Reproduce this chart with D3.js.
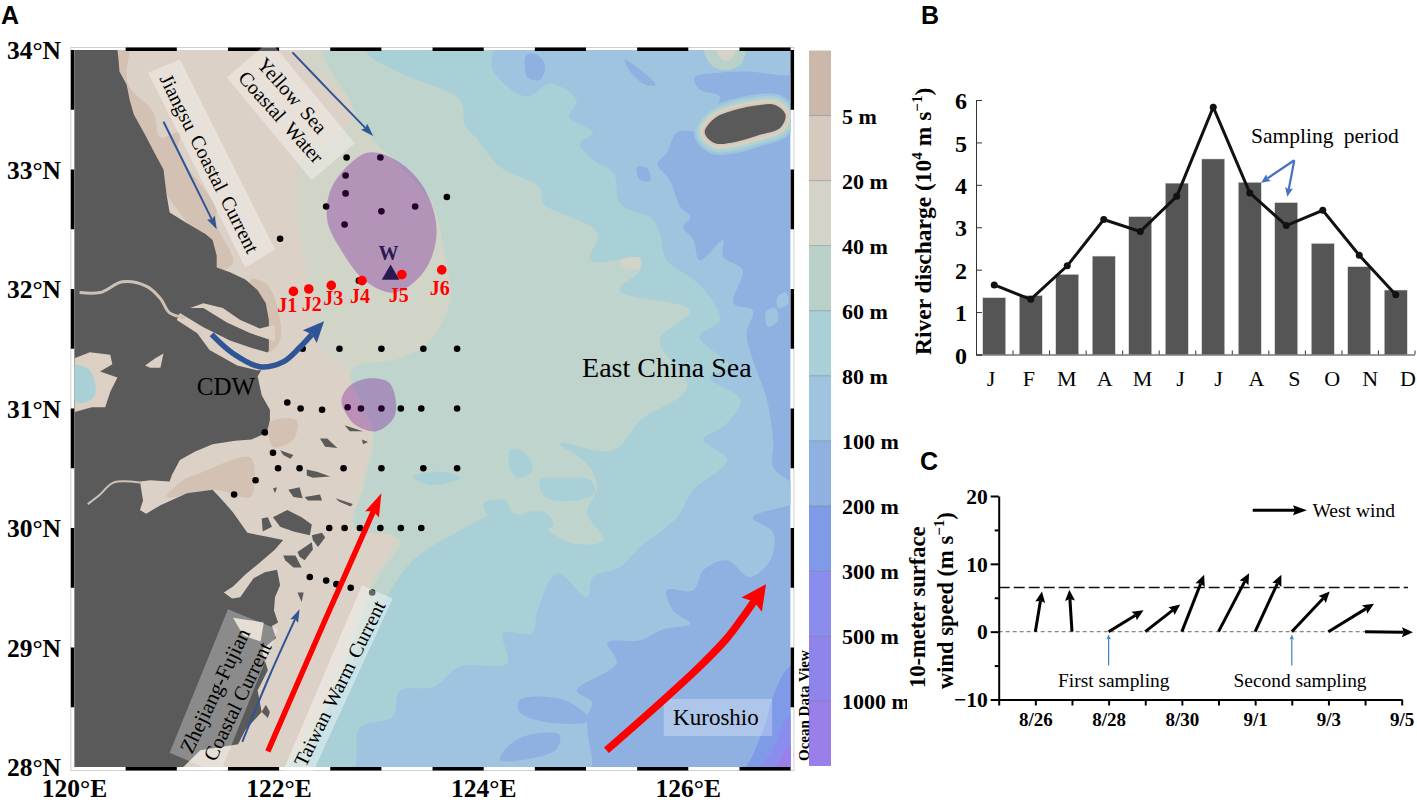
<!DOCTYPE html>
<html>
<head>
<meta charset="utf-8">
<script src="https://d3js.org/d3.v7.min.js"></script>
<style>
  html, body { margin: 0; background: #fff; }
  text { font-family: "Liberation Serif", serif; fill: #000; }
  .letter { font-family: "Liberation Sans", sans-serif; font-weight: bold; font-size: 25px; }
</style>
</head>
<body>
<svg id="fig" width="1417" height="802"></svg>
<script>
// ---- panel A: all outlines are [lon, lat] ----
const lonTicks = [120, 122, 124, 126];
const latTicks = [34, 33, 32, 31, 30, 29, 28];
const depthLevels = ["5 m", "20 m", "40 m", "60 m", "80 m", "100 m", "200 m", "300 m", "500 m", "1000 m"];
const depthColors = ["#cbb8aa", "#d6cabf", "#d3d3c7", "#bad1ca", "#a8d0d6", "#9ec4df", "#8fb1e1", "#7f9be8", "#8a8cee", "#8f84ec", "#9a7fea"];

const band100 = [[127.09,33.82],[126.56,33.82],[126.31,33.81],[126.06,33.77],[126.11,33.67],[126.31,33.61],[126.23,33.47],[126.14,33.33],[125.89,33.31],[125.79,33.14],[125.70,33.05],[125.82,32.91],[125.92,32.69],[126.02,32.60],[125.95,32.52],[126.05,32.41],[126.11,32.24],[126.34,32.41],[126.34,32.27],[126.53,32.16],[126.44,31.88],[126.63,31.82],[126.57,31.63],[126.63,31.41],[126.77,31.07],[126.83,30.71],[126.83,30.51],[127.09,30.32],[127.09,30.23],[126.63,30.09],[126.83,29.96],[126.80,29.73],[126.60,29.59],[126.38,29.73],[126.15,29.65],[126.05,29.48],[125.79,29.48],[125.85,29.31],[126.02,29.20],[125.75,29.15],[125.53,29.06],[125.21,29.04],[125.30,28.87],[124.91,28.64],[125.06,28.54],[125.01,28.42],[125.02,28.27],[125.01,27.93],[119.86,27.93],[119.86,34.17],[127.09,34.17]];
const band80 = [[124.06,34.17],[124.09,33.83],[124.42,33.61],[124.65,33.72],[124.91,33.58],[124.84,33.44],[125.07,33.31],[124.94,33.22],[125.07,33.08],[125.27,32.97],[125.33,32.72],[125.50,32.64],[125.63,32.60],[125.72,32.47],[125.79,32.24],[126.05,32.08],[126.18,31.97],[126.31,31.74],[126.11,31.60],[126.41,31.35],[126.21,31.26],[126.51,31.07],[126.36,30.86],[126.15,30.74],[126.38,30.57],[126.05,30.32],[125.89,30.09],[125.53,29.84],[125.33,29.67],[125.07,29.59],[125.01,29.42],[124.72,29.62],[124.52,29.29],[124.48,29.12],[124.19,29.12],[124.23,28.87],[123.77,28.84],[123.51,28.67],[123.18,28.64],[123.11,28.42],[122.79,28.33],[122.69,27.93],[119.86,27.93],[119.86,34.17]];
const band60 = [[122.86,34.17],[122.86,33.98],[123.18,33.81],[123.77,33.58],[123.82,33.37],[123.94,33.25],[124.16,33.02],[124.55,32.85],[124.58,32.72],[125.11,32.47],[125.04,32.24],[125.40,32.24],[125.53,32.16],[125.33,31.99],[126.02,31.82],[125.72,31.57],[125.99,31.18],[125.53,30.90],[125.27,30.65],[124.74,30.71],[125.01,30.54],[125.11,30.34],[125.01,30.13],[125.17,29.90],[124.87,29.87],[124.42,30.09],[124.16,30.13],[123.77,29.98],[123.31,29.73],[123.08,29.46],[122.69,28.84],[122.37,28.28],[122.20,27.93],[119.86,27.93],[119.86,34.17]];
const band40 = [[122.42,34.17],[122.42,33.98],[122.69,33.58],[122.86,33.31],[123.48,32.74],[123.61,32.33],[123.67,31.91],[123.48,31.57],[123.18,31.42],[122.71,31.32],[122.92,30.80],[122.84,30.38],[122.74,30.00],[123.18,29.90],[122.96,29.58],[121.98,27.93],[119.86,27.93],[119.86,34.17]];
const band20 = [[122.20,34.17],[122.20,33.98],[122.72,33.47],[122.20,33.04],[122.17,32.74],[122.20,32.47],[122.33,31.91],[122.43,31.49],[122.64,31.35],[122.74,31.07],[122.89,30.80],[122.81,30.38],[122.71,30.00],[123.13,29.92],[122.91,29.58],[121.89,27.93],[119.86,27.93],[119.86,34.17]];
const deep200 = [[126.55,27.93],[126.63,28.10],[126.75,28.35],[126.85,28.64],[127.00,28.85],[127.20,28.90],[127.20,27.90]];
const deep300 = [[126.68,27.93],[126.82,28.14],[127.00,28.44],[127.20,28.48],[127.20,27.90]];
const deep500 = [[126.85,27.93],[127.00,28.18],[127.20,28.23],[127.20,27.90]];

// small closed patches, grouped by the depth class they are filled with
const patches200 = [
  [[124.42,33.96],[124.52,33.96],[124.60,33.87],[124.55,33.75],[124.43,33.77],[124.40,33.87]],
  [[125.50,33.02],[125.60,33.01],[125.63,32.91],[125.53,32.91]],
  [[125.38,33.92],[125.68,33.71],[125.58,33.71],[125.43,33.82]],
  [[124.35,28.56],[124.79,28.56],[125.04,28.39],[124.65,28.37],[124.35,28.46]],
  [[124.45,28.27],[124.74,28.27],[124.70,28.14],[124.16,28.06],[124.26,28.19]]
];
const patches100 = [
  [[126.76,31.81],[126.85,31.84],[126.88,31.74],[126.78,31.68]],
  [[126.87,31.93],[126.95,31.97],[126.98,31.88],[126.88,31.84]]
];
const patches80 = [
  [[124.26,30.65],[124.40,30.63],[124.48,30.49],[124.35,30.42],[124.26,30.49]],
  [[124.55,30.40],[124.79,30.42],[125.04,30.40],[125.09,30.30],[124.89,30.23],[124.60,30.26]],
  [[124.38,30.11],[124.60,30.13],[124.68,30.03],[124.50,29.97]],
  [[124.00,30.21],[124.21,30.23],[124.26,30.12],[124.06,30.09]],
  [[123.31,30.43],[123.60,30.47],[123.77,30.42],[123.48,30.36]]
];
const patches60 = [[[126.16,34.00],[126.55,34.00],[126.51,33.88],[126.36,33.83],[126.23,33.87]]];
const patches40 = [
  [[125.33,32.24],[125.53,32.26],[125.53,32.18],[125.38,32.18]],
  [[126.28,34.00],[126.46,34.00],[126.41,33.92],[126.33,33.92]]
];
const shoals = [
  [[120.37,34.04],[120.52,34.04],[120.52,33.72],[120.77,33.48],[120.84,33.27],[121.03,33.31],[121.01,33.14],[121.20,32.91],[121.38,32.69],[121.39,32.54],[121.55,32.22],[121.42,32.16],[121.23,32.41],[120.84,32.87],[120.44,33.58]],
  [[121.72,32.08],[121.89,32.03],[122.01,31.74],[122.00,31.55],[121.88,31.47],[121.83,31.70]],
  [[121.91,30.88],[122.17,30.90],[122.14,30.74],[121.94,30.68]],
  [[120.90,30.26],[121.06,30.40],[121.23,30.46],[121.72,30.59],[121.76,30.40],[121.72,30.26],[121.37,30.32]]
];

const mainland = [[120.40,34.17],[120.43,33.92],[120.44,33.82],[120.51,33.71],[120.54,33.58],[120.58,33.46],[120.69,33.29],[120.77,33.16],[120.87,33.00],[120.90,32.79],[120.93,32.64],[121.10,32.55],[121.28,32.46],[121.35,32.41],[121.39,32.28],[121.39,32.18],[121.52,32.14],[121.67,32.08],[121.79,31.99],[121.87,31.88],[121.90,31.74],[121.90,31.49],[121.84,31.34],[121.79,31.27],[121.83,31.11],[121.91,30.99],[121.91,30.90],[121.88,30.80],[121.73,30.74],[121.57,30.73],[121.35,30.70],[121.18,30.64],[121.03,30.57],[120.95,30.44],[120.93,30.39],[120.74,30.40],[120.64,30.39],[120.67,30.23],[120.64,30.15],[120.70,30.12],[120.84,30.19],[121.10,30.29],[121.35,30.32],[121.47,30.21],[121.55,30.13],[121.69,29.96],[121.86,29.93],[122.04,29.90],[121.96,29.82],[121.81,29.71],[121.67,29.61],[121.55,29.51],[121.46,29.46],[121.54,29.41],[121.62,29.42],[121.75,29.58],[121.86,29.63],[121.98,29.65],[122.01,29.52],[121.96,29.42],[121.95,29.31],[121.99,29.21],[121.93,29.18],[121.97,29.08],[121.83,28.98],[121.89,28.81],[121.79,28.64],[121.83,28.46],[121.67,28.31],[121.60,28.19],[121.23,28.14],[120.98,27.93],[119.86,27.93],[119.86,34.17]];
const jeju = [[126.16,33.31],[126.26,33.43],[126.46,33.50],[126.70,33.54],[126.85,33.54],[126.95,33.46],[126.90,33.35],[126.70,33.29],[126.46,33.23],[126.26,33.22]];
const islands = [
  [[121.94,30.09],[122.08,30.15],[122.22,30.09],[122.32,30.03],[122.30,29.94],[122.14,29.97],[122.01,30.01]],
  [[121.83,30.08],[121.89,30.09],[121.93,30.01],[121.84,29.97]],
  [[122.32,29.94],[122.42,29.96],[122.45,29.92],[122.38,29.84],[122.33,29.90]],
  [[122.18,29.80],[122.32,29.88],[122.33,29.82],[122.25,29.73],[122.20,29.76]],
  [[122.04,29.77],[122.16,29.77],[122.22,29.67],[122.14,29.67],[122.06,29.73]],
  [[122.09,30.32],[122.20,30.34],[122.23,30.25],[122.14,30.26]],
  [[122.25,30.26],[122.40,30.28],[122.42,30.23],[122.28,30.23]],
  [[122.27,30.49],[122.37,30.47],[122.50,30.43],[122.33,30.42],[122.27,30.44]],
  [[122.40,30.75],[122.47,30.75],[122.57,30.67],[122.45,30.68]],
  [[122.18,29.46],[122.24,29.46],[122.22,29.38]],
  [[122.01,30.65],[122.14,30.61],[122.11,30.58],[122.04,30.61]],
  [[122.81,30.74],[122.87,30.72],[122.82,30.70]],
  [[122.64,30.86],[122.82,30.81],[122.69,30.81]],
  [[121.94,30.33],[121.98,30.34],[121.96,30.29]],
  [[122.55,30.25],[122.72,30.20],[122.70,30.18],[122.59,30.22]],
  [[121.87,28.52],[121.91,28.46],[121.89,28.41],[121.83,28.46]]
];
const northChannel = [[121.13,31.84],[121.26,31.88],[121.45,31.84],[121.62,31.74],[121.81,31.67],[121.96,31.70],[121.96,31.56],[121.72,31.63],[121.49,31.72],[121.26,31.84]];
const southChannel = [[121.03,31.80],[121.26,31.68],[121.52,31.57],[121.72,31.51],[121.88,31.47],[121.96,31.47],[121.96,31.32],[121.78,31.32],[121.59,31.36],[121.32,31.49],[121.20,31.63],[121.00,31.74]];
const coastFlats = [[121.55,29.25],[121.85,29.21],[121.82,29.05],[121.65,29.10]];
const taiLake = [[120.00,31.42],[120.15,31.47],[120.35,31.45],[120.37,31.37],[120.25,31.31],[120.42,31.26],[120.35,31.14],[120.30,31.01],[120.17,31.01],[120.00,30.97]];
const taiLakeDeep = [[120.00,31.36],[120.15,31.32],[120.20,31.11],[120.10,31.05],[120.00,31.07]];
const smallLake = [[120.69,31.36],[120.79,31.42],[120.87,31.46],[120.84,31.34],[120.74,31.34]];
const rivers = [
  [[120.05,31.97],[120.25,31.97],[120.47,32.06],[120.71,32.02],[120.84,31.92],[120.93,31.80],[121.08,31.76]],
  [[120.13,30.20],[120.25,30.28],[120.38,30.38],[120.64,30.38]]
];

const stations = [[122.66,33.10],[122.99,33.10],[122.65,32.95],[122.65,32.80],[122.46,32.69],[123.00,32.65],[123.33,32.69],[122.64,32.54],[123.64,32.77],[122.01,32.42],
  [122.23,31.50],[122.59,31.50],[123.00,31.50],[123.41,31.50],[123.74,31.50],
  [122.08,31.05],[122.21,31.00],[122.42,30.99],[122.67,31.01],[122.80,31.00],[123.00,31.00],[123.19,31.00],[123.39,31.00],[123.74,31.00],
  [121.86,30.80],[121.94,30.63],[121.99,30.50],[122.20,30.50],[122.63,30.50],[123.00,30.50],[123.41,30.50],[123.74,30.50],[121.77,30.40],[121.56,30.28],
  [122.49,30.00],[122.64,30.00],[122.79,30.00],[122.99,30.00],[123.19,30.00],[123.39,30.00],
  [122.30,29.59],[122.46,29.56],[122.56,29.53],[122.70,29.50],[122.91,29.46],[122.78,32.07]];
const jNames = ["J1", "J2", "J3", "J4", "J5", "J6"];
const jStations = [[122.14,31.98],[122.29,32.00],[122.51,32.03],[122.81,32.07],[123.20,32.12],[123.59,32.16]];
const jLabels = [[122.08,31.81],[122.32,31.82],[122.53,31.87],[122.79,31.88],[123.17,31.89],[123.57,31.95]];
const hypoxia = [
  [[122.86,33.14],[123.16,33.07],[123.42,32.84],[123.54,32.48],[123.42,32.15],[123.13,31.97],[122.84,32.07],[122.61,32.32],[122.47,32.58],[122.52,32.86]],
  [[122.61,31.07],[122.69,31.19],[122.85,31.25],[123.07,31.22],[123.14,31.07],[123.12,30.92],[122.95,30.81],[122.75,30.86],[122.66,30.95]]
];

// label boxes and current arrows
const jiangsuBox = [[120.72,33.81],[121.03,33.92],[121.96,32.33],[121.67,32.18]];
const yellowBox = [[121.49,33.77],[121.91,34.08],[122.74,33.22],[122.32,32.91]];
const zhejiangBox = [[121.50,29.32],[121.99,29.15],[121.42,27.94],[120.93,28.12]];
const taiwanBox = [[122.81,29.52],[123.11,29.41],[122.30,27.90],[122.04,27.97]];
const kuroshioBox = [[125.76,28.57],[126.82,28.57],[126.82,28.26],[125.76,28.26]];
const taiwanCurrent = [[121.89,28.13],[122.45,29.23],[123.00,30.29]];
const kuroshioCurrent = [[125.20,28.14],[125.73,28.54],[126.11,28.84],[126.38,29.08],[126.53,29.25],[126.76,29.53]];
const jiangsuCurrent = [[120.87,33.40],[121.13,32.95],[121.39,32.50]];
const yellowCurrent = [[122.13,33.98],[122.50,33.65],[122.92,33.28]];
const zhejiangCurrent = [[121.64,28.21],[121.91,28.77],[122.20,29.32]];
const diluted = [[121.34,31.62],[121.55,31.46],[121.81,31.35],[122.04,31.39],[122.20,31.51],[122.44,31.73]];

// ---- panel B ----
const months = ["J", "F", "M", "A", "M", "J", "J", "A", "S", "O", "N", "D"];
const dischargeBars = [1.34, 1.39, 1.89, 2.32, 3.25, 4.04, 4.61, 4.06, 3.58, 2.62, 2.07, 1.52];
const dischargeLine = [1.64, 1.30, 2.09, 3.18, 2.90, 3.73, 5.83, 3.81, 3.04, 3.40, 2.34, 1.41];

// ---- panel C ----
const days = ["8/25", "8/26", "8/27", "8/28", "8/29", "8/30", "8/31", "9/1", "9/2", "9/3", "9/4", "9/5"];
const dayLabels = ["8/26", "8/28", "8/30", "9/1", "9/3", "9/5"];
const windDays = ["8/26", "8/27", "8/28", "8/29", "8/30", "8/31", "9/1", "9/2", "9/3", "9/4"];
const windU = [0.98, -0.39, 5.15, 5.15, 3.28, 4.51, 3.87, 5.59, 6.72, 7.06];
const windV = [5.93, 6.18, 3.14, 4.02, 8.38, 8.63, 8.38, 5.93, 4.12, -0.10];
const windMean = 6.5;
const samplingDays = [["8/28", "First sampling"], ["9/2", "Second sampling"]];

const svg = d3.select("#fig");

// draws a shaft plus a triangular head, pts are already in pixels
function arrow(g, pts, w, headLen, headW, color, curve) {
  const n = pts.length - 1;
  const tip = pts[n], prev = pts[n - 1];
  const len = Math.hypot(tip[0] - prev[0], tip[1] - prev[1]);
  const ux = (tip[0] - prev[0]) / len, uy = (tip[1] - prev[1]) / len;
  const base = [tip[0] - ux * headLen, tip[1] - uy * headLen];
  const neck = [tip[0] - ux * headLen * 0.85, tip[1] - uy * headLen * 0.85];
  g.append("path")
    .attr("d", d3.line().curve(curve || d3.curveLinear)(pts.slice(0, n).concat([neck])))
    .attr("fill", "none").attr("stroke", color).attr("stroke-width", w);
  g.append("path")
    .attr("d", d3.line()([tip,
      [base[0] - uy * headW / 2, base[1] + ux * headW / 2],
      neck,
      [base[0] + uy * headW / 2, base[1] - ux * headW / 2]]) + "Z")
    .attr("fill", color);
}

// ==================== panel A ====================
const lon = d3.scaleLinear().domain([120, 127]).range([74.5, 790.6]);
const lat = d3.scaleLinear().domain([34, 28]).range([50, 767]);
const toPx = d => [lon(d[0]), lat(d[1])];
const smooth = d3.line().curve(d3.curveCatmullRomClosed.alpha(0.5));
const straight = d3.line();
const smoothPath = pts => smooth(pts.map(toPx));
const polyPath = pts => straight(pts.map(toPx)) + "Z";

svg.append("clipPath").attr("id", "mapClip").append("rect")
  .attr("x", lon(120)).attr("y", lat(34))
  .attr("width", lon(127) - lon(120)).attr("height", lat(28) - lat(34));

const map = svg.append("g").attr("clip-path", "url(#mapClip)");
map.append("rect")
  .attr("x", lon(120)).attr("y", lat(34))
  .attr("width", lon(127) - lon(120)).attr("height", lat(28) - lat(34))
  .attr("fill", "#8fb1e1");

function fillLayer(list, fill, pathFn) {
  map.selectAll(null).data(list).enter().append("path")
    .attr("d", pathFn || smoothPath).attr("fill", fill);
}
fillLayer([deep200], "#7f9be8");
fillLayer([deep300], "#8a8cee");
fillLayer([deep500], "#9a7fea");
fillLayer(patches100, "#9ec4df");
fillLayer([band100], "#9ec4df");
fillLayer(patches200, "#8fb1e1");
fillLayer([band80], "#a8d0d6");
fillLayer([band60], "#bed4cc");
fillLayer(patches80, "#a8d0d6");
fillLayer(patches60, "#bad1ca");
fillLayer(patches40, "#d3d3c7");
fillLayer([band40], "#d1d5c8");
fillLayer([band20], "#dcd1c6");
fillLayer(shoals, "#d3c1b3");

// rings around Jeju are the same outline stroked wider and wider
[[22, "#9ec4df"], [17, "#a8d0d6"], [13, "#bad1ca"], [9, "#d3d3c7"], [5, "#d9c9bb"]].forEach(r => {
  map.append("path").attr("d", smoothPath(jeju)).attr("fill", "none")
    .attr("stroke", r[1]).attr("stroke-width", r[0]).attr("stroke-linejoin", "round");
});

fillLayer([mainland], "#5a5a5a", polyPath);
fillLayer([jeju], "#5a5a5a");
fillLayer(islands, "#5a5a5a", polyPath);
fillLayer([northChannel, southChannel, taiLake, smallLake, coastFlats], "#dccfc3", polyPath);
fillLayer([taiLakeDeep], "#a8d0d6");
map.selectAll(null).data(rivers).enter().append("path")
  .attr("d", d => d3.line().curve(d3.curveCatmullRom)(d.map(toPx)))
  .attr("fill", "none").attr("stroke", "#cfc1b5").attr("stroke-width", (d, i) => i === 1 ? 2 : 3);

// frame with the alternating black dashes
const frame = svg.append("g");
frame.append("rect")
  .attr("x", lon(120) - 3.7).attr("y", lat(34) - 2.5)
  .attr("width", lon(127) - lon(120) + 7).attr("height", lat(28) - lat(34) + 6)
  .attr("fill", "none").attr("stroke", "#cfcfcf").attr("stroke-width", 1);
d3.range(120.5, 127, 1).forEach(d => {
  [lat(34) - 2.5, lat(28)].forEach(y => {
    frame.append("rect").attr("x", lon(d)).attr("y", y)
      .attr("width", lon(d + 0.5) - lon(d)).attr("height", 3.5).attr("fill", "#000");
  });
});
d3.range(28.5, 34, 1).forEach(d => {
  [lon(120) - 3.7, lon(127)].forEach(x => {
    frame.append("rect").attr("x", x).attr("y", lat(d + 0.5))
      .attr("width", 3.4).attr("height", lat(d) - lat(d + 0.5)).attr("fill", "#000");
  });
});

const mapTop = svg.append("g");

// stations go under the purple patches, that is what darkens them
mapTop.selectAll(null).data(stations).enter().append("circle")
  .attr("cx", d => lon(d[0])).attr("cy", d => lat(d[1])).attr("r", 3.3).attr("fill", "#000");
mapTop.selectAll(null).data(hypoxia).enter().append("path")
  .attr("d", smoothPath).attr("fill", "#750096").attr("fill-opacity", 0.31);

// translucent label boxes
[[jiangsuBox, 0.35], [yellowBox, 0.35], [zhejiangBox, 0.3], [taiwanBox, 0.4], [kuroshioBox, 0.28]].forEach(b => {
  mapTop.append("path").attr("d", polyPath(b[0])).attr("fill", "#fff").attr("fill-opacity", b[1]);
});

// currents
arrow(mapTop, jiangsuCurrent.map(toPx), 2, 13, 8.5, "#2f5597", d3.curveCatmullRom);
arrow(mapTop, yellowCurrent.map(toPx), 2, 13, 8.5, "#2f5597", d3.curveCatmullRom);
arrow(mapTop, zhejiangCurrent.map(toPx), 2, 13, 8.5, "#2f5597", d3.curveCatmullRom);
arrow(mapTop, diluted.map(toPx), 5.5, 21, 19, "#2f5597", d3.curveCatmullRom);
arrow(mapTop, taiwanCurrent.map(toPx), 5.5, 23, 15, "#ff0000", d3.curveCatmullRom);
arrow(mapTop, kuroshioCurrent.map(toPx), 7.5, 25, 25, "#ff0000", d3.curveCatmullRom);

function mapLabel(txt, lo, la, size, rot, extra) {
  const t = mapTop.append("text")
    .attr("transform", `translate(${lon(lo)},${lat(la)}) rotate(${rot || 0})`)
    .attr("text-anchor", "middle")
    .style("font-size", size + "px")
    .text(txt);
  if (rot) t.attr("dy", "0.35em");
  if (extra) extra(t);
  return t;
}
mapLabel("Jiangsu Coastal Current", 121.32, 33.05, 20, 63.4, t => t.style("word-spacing", "3px"));
mapLabel("Yellow Sea", 122.13, 33.62, 20, 48.5, t => t.style("word-spacing", "3px"));
mapLabel("Coastal Water", 122.02, 33.44, 20, 48, t => t.style("word-spacing", "4px"));
mapLabel("Zhejiang-Fujian", 121.37, 28.64, 21, -64.4);
mapLabel("Coastal Current", 121.59, 28.55, 20.5, -64);
mapLabel("Taiwan Warm Current", 122.59, 28.70, 20, -63.7, t => t.style("word-spacing", "2px"));
mapLabel("Kuroshio", 126.27, 28.35, 23);
mapLabel("East China Sea", 125.79, 31.26, 28);
mapLabel("CDW", 121.48, 31.11, 25);
mapLabel("W", 123.07, 32.24, 20).style("font-weight", "bold").style("fill", "#2a1a50");

mapTop.append("path")
  .attr("d", d3.symbol().type(d3.symbolTriangle).size(135)())
  .attr("transform", `translate(${lon(123.09)},${lat(32.12)})`)
  .attr("fill", "#2a1a50");
mapTop.selectAll(null).data(jStations).enter().append("circle")
  .attr("cx", d => lon(d[0])).attr("cy", d => lat(d[1])).attr("r", 4.8).attr("fill", "#ff0000");
mapTop.selectAll(null).data(jLabels).enter().append("text")
  .attr("x", d => lon(d[0])).attr("y", d => lat(d[1]))
  .attr("text-anchor", "middle")
  .style("font-size", "20px").style("font-weight", "bold").style("fill", "#ff0000")
  .text((d, i) => jNames[i]);

// lat / lon tick labels
svg.selectAll(null).data(latTicks).enter().append("text")
  .attr("x", 61).attr("y", d => lat(d) + 9)
  .attr("text-anchor", "end")
  .style("font-size", "25.5px").style("font-weight", "bold")
  .text(d => d + "°N");
svg.selectAll(null).data(lonTicks).enter().append("text")
  .attr("x", d => lon(d)).attr("y", 797)
  .attr("text-anchor", "middle")
  .style("font-size", "25.5px").style("font-weight", "bold")
  .text(d => d + "°E");

// colour bar
const barScale = d3.scaleBand().domain(d3.range(depthColors.length)).range([50.5, 766]);
const bar = svg.append("g");
bar.selectAll("rect").data(depthColors).enter().append("rect")
  .attr("x", 809).attr("width", 22)
  .attr("y", (d, i) => barScale(i)).attr("height", barScale.bandwidth())
  .attr("fill", d => d);
bar.selectAll("line").data(depthLevels).enter().append("line")
  .attr("x1", 809).attr("x2", 831)
  .attr("y1", (d, i) => barScale(i + 1)).attr("y2", (d, i) => barScale(i + 1))
  .attr("stroke", "#6f8288").attr("stroke-opacity", 0.55);
svg.append("clipPath").attr("id", "barClip").append("rect")
  .attr("x", 830).attr("y", 40).attr("width", 77).attr("height", 740);
bar.append("g").attr("clip-path", "url(#barClip)")
  .selectAll("text").data(depthLevels).enter().append("text")
  .attr("x", 842).attr("y", (d, i) => barScale(i + 1) + 8)
  .style("font-size", "22px").style("font-weight", "bold")
  .text(d => d);
svg.append("text")
  .attr("transform", "translate(809,761) rotate(-90)")
  .style("font-size", "15px").style("font-weight", "bold")
  .text("Ocean Data View");

// ==================== panel B ====================
const bx = d3.scaleBand().domain(d3.range(12)).range([976, 1414]).paddingInner(0.37).paddingOuter(0.185);
const by = d3.scaleLinear().domain([0, 6]).range([354.5, 100]);
const bEdge = d3.scaleLinear().domain([0, 12]).range([976, 1414.5]);
const bLabelPos = d3.scaleLinear().domain([0, 11]).range([991, 1408]);
const bCenter = i => bx(i) + bx.bandwidth() / 2;
const monthPos = d3.scaleLinear().domain([0, 11]).range([bCenter(0), bCenter(11)]);
const panelB = svg.append("g");

panelB.selectAll("rect").data(dischargeBars).enter().append("rect")
  .attr("x", (d, i) => bx(i)).attr("width", bx.bandwidth())
  .attr("y", d => by(d)).attr("height", d => by(0) - by(d))
  .attr("fill", "#555").attr("stroke", "#ddd").attr("stroke-width", 0.5);

panelB.append("g")
  .attr("transform", `translate(976,0)`)
  .call(d3.axisLeft(by).ticks(6).tickSize(-6).tickPadding(9).tickFormat(d3.format("d")))
  .call(g => {
    g.selectAll("line").attr("stroke", "#333");
    g.select(".domain").attr("stroke", "#333");
    g.selectAll("text").attr("dy", "0.36em")
      .style("font-size", "24px").style("font-weight", "bold").style("font-family", "Liberation Serif");
  });
panelB.append("g")
  .attr("transform", `translate(0,${by(0)})`)
  .call(d3.axisBottom(bEdge).tickValues(d3.range(1, 13)).tickSize(-4).tickSizeOuter(0).tickFormat(""))
  .call(g => {
    g.selectAll("line").attr("stroke", "#333");
    g.select(".domain").attr("stroke", "#333");
  });

panelB.selectAll(".mlabel").data(months).enter().append("text")
  .attr("class", "mlabel")
  .attr("x", (d, i) => bLabelPos(i)).attr("y", 386)
  .attr("text-anchor", "middle").style("font-size", "22px")
  .text(d => d);

panelB.append("path")
  .datum(dischargeLine)
  .attr("d", d3.line().x((d, i) => bCenter(i)).y(d => by(d)))
  .attr("fill", "none").attr("stroke", "#111").attr("stroke-width", 3);
panelB.selectAll("circle").data(dischargeLine).enter().append("circle")
  .attr("cx", (d, i) => bCenter(i)).attr("cy", d => by(d)).attr("r", 3.5).attr("fill", "#111");

panelB.append("text")
  .attr("x", 1251).attr("y", 143)
  .style("font-size", "21.5px").style("word-spacing", "5px")
  .text("Sampling period");
arrow(panelB, [[monthPos(8.22), by(4.58)], [monthPos(7.31), by(4.05)]], 2.2, 9, 8, "#4472c4");
arrow(panelB, [[monthPos(8.22), by(4.58)], [monthPos(8.03), by(3.72)]], 2.2, 9, 8, "#4472c4");

const titleB = panelB.append("text")
  .attr("transform", "translate(931,355) rotate(-90)")
  .style("font-size", "23.5px").style("font-weight", "bold");
titleB.append("tspan").text("River discharge (10");
titleB.append("tspan").attr("dy", -9).style("font-size", "15px").text("4");
titleB.append("tspan").attr("dy", 9).text(" m s");
titleB.append("tspan").attr("dy", -9).style("font-size", "15px").text("−1");
titleB.append("tspan").attr("dy", 9).text(")");

// ==================== panel C ====================
const cx = d3.scalePoint().domain(days).range([998.7, 1401.7]);
const cy = d3.scaleLinear().domain([-10, 20]).range([699.5, 496]);
const perUnit = cy(0) - cy(1);
const panelC = svg.append("g");

panelC.append("line")
  .attr("x1", cx("8/25")).attr("x2", 1408).attr("y1", cy(windMean)).attr("y2", cy(windMean))
  .attr("stroke", "#111").attr("stroke-width", 1.5).attr("stroke-dasharray", "11,4");
panelC.append("line")
  .attr("x1", cx("8/25")).attr("x2", 1400).attr("y1", cy(0)).attr("y2", cy(0))
  .attr("stroke", "#888").attr("stroke-width", 1.4).attr("stroke-dasharray", "4,3");

panelC.append("g")
  .attr("transform", `translate(${cx("8/25")},0)`)
  .call(d3.axisLeft(cy).tickValues([-10, 0, 10, 20]).tickSize(8).tickSizeOuter(0).tickPadding(3))
  .call(g => {
    g.selectAll("line").attr("stroke", "#000").attr("stroke-width", 2);
    g.select(".domain").attr("stroke", "#000").attr("stroke-width", 2);
    g.selectAll("text").attr("dy", "0.34em")
      .style("font-size", "21.5px").style("font-weight", "bold").style("font-family", "Liberation Serif");
  });
panelC.append("g")
  .attr("transform", `translate(${cx("8/25")},0)`)
  .call(d3.axisLeft(cy).tickValues([-5, 5, 15]).tickSize(4).tickSizeOuter(0).tickFormat(""))
  .call(g => {
    g.selectAll("line").attr("stroke", "#000").attr("stroke-width", 2);
    g.select(".domain").remove();
  });
panelC.append("g")
  .attr("transform", `translate(0,${cy(-10)})`)
  .call(d3.axisBottom(cx).tickSize(6).tickSizeOuter(0).tickPadding(7)
    .tickFormat(d => dayLabels.includes(d) ? d : ""))
  .call(g => {
    g.selectAll("line").attr("stroke", "#000").attr("stroke-width", 2);
    g.select(".domain").attr("stroke", "#000").attr("stroke-width", 2);
    g.selectAll("text").style("font-size", "19px").style("font-weight", "bold")
      .style("font-family", "Liberation Serif");
  });

windDays.forEach((d, i) => {
  const x0 = cx(d), y0 = cy(0);
  arrow(panelC, [[x0, y0], [x0 + windU[i] * perUnit, y0 - windV[i] * perUnit]], 3, 11, 10, "#000");
});

// west wind key
arrow(panelC, [[1252.7, cy(17.9)], [1252.7 + 8 * perUnit, cy(17.9)]], 3, 14, 10, "#000");
panelC.append("text").attr("x", 1312.5).attr("y", 516.7)
  .style("font-size", "19.5px").text("West wind");

// sampling markers
samplingDays.forEach(s => {
  arrow(panelC, [[cx(s[0]), cy(-5)], [cx(s[0]), cy(-0.4)]], 1.2, 5, 4.5, "#3f85c8");
});
panelC.append("text").attr("x", 1058).attr("y", 687).style("font-size", "19.4px").text(samplingDays[0][1]);
panelC.append("text").attr("x", 1233.5).attr("y", 687).style("font-size", "19.4px").text(samplingDays[1][1]);

panelC.append("text")
  .attr("transform", "translate(925,688) rotate(-90)")
  .style("font-size", "22.5px").style("font-weight", "bold")
  .text("10-meter surface");
const titleC = panelC.append("text")
  .attr("transform", "translate(952.5,689) rotate(-90)")
  .style("font-size", "22.5px").style("font-weight", "bold");
titleC.append("tspan").text("wind speed (m s");
titleC.append("tspan").attr("dy", -9).style("font-size", "15px").text("−1");
titleC.append("tspan").attr("dy", 9).text(")");

// panel letters
svg.append("text").attr("class", "letter").attr("x", 1).attr("y", 24).text("A");
svg.append("text").attr("class", "letter").attr("x", 921).attr("y", 24).text("B");
svg.append("text").attr("class", "letter").attr("x", 920).attr("y", 470).text("C");
</script>
</body>
</html>
